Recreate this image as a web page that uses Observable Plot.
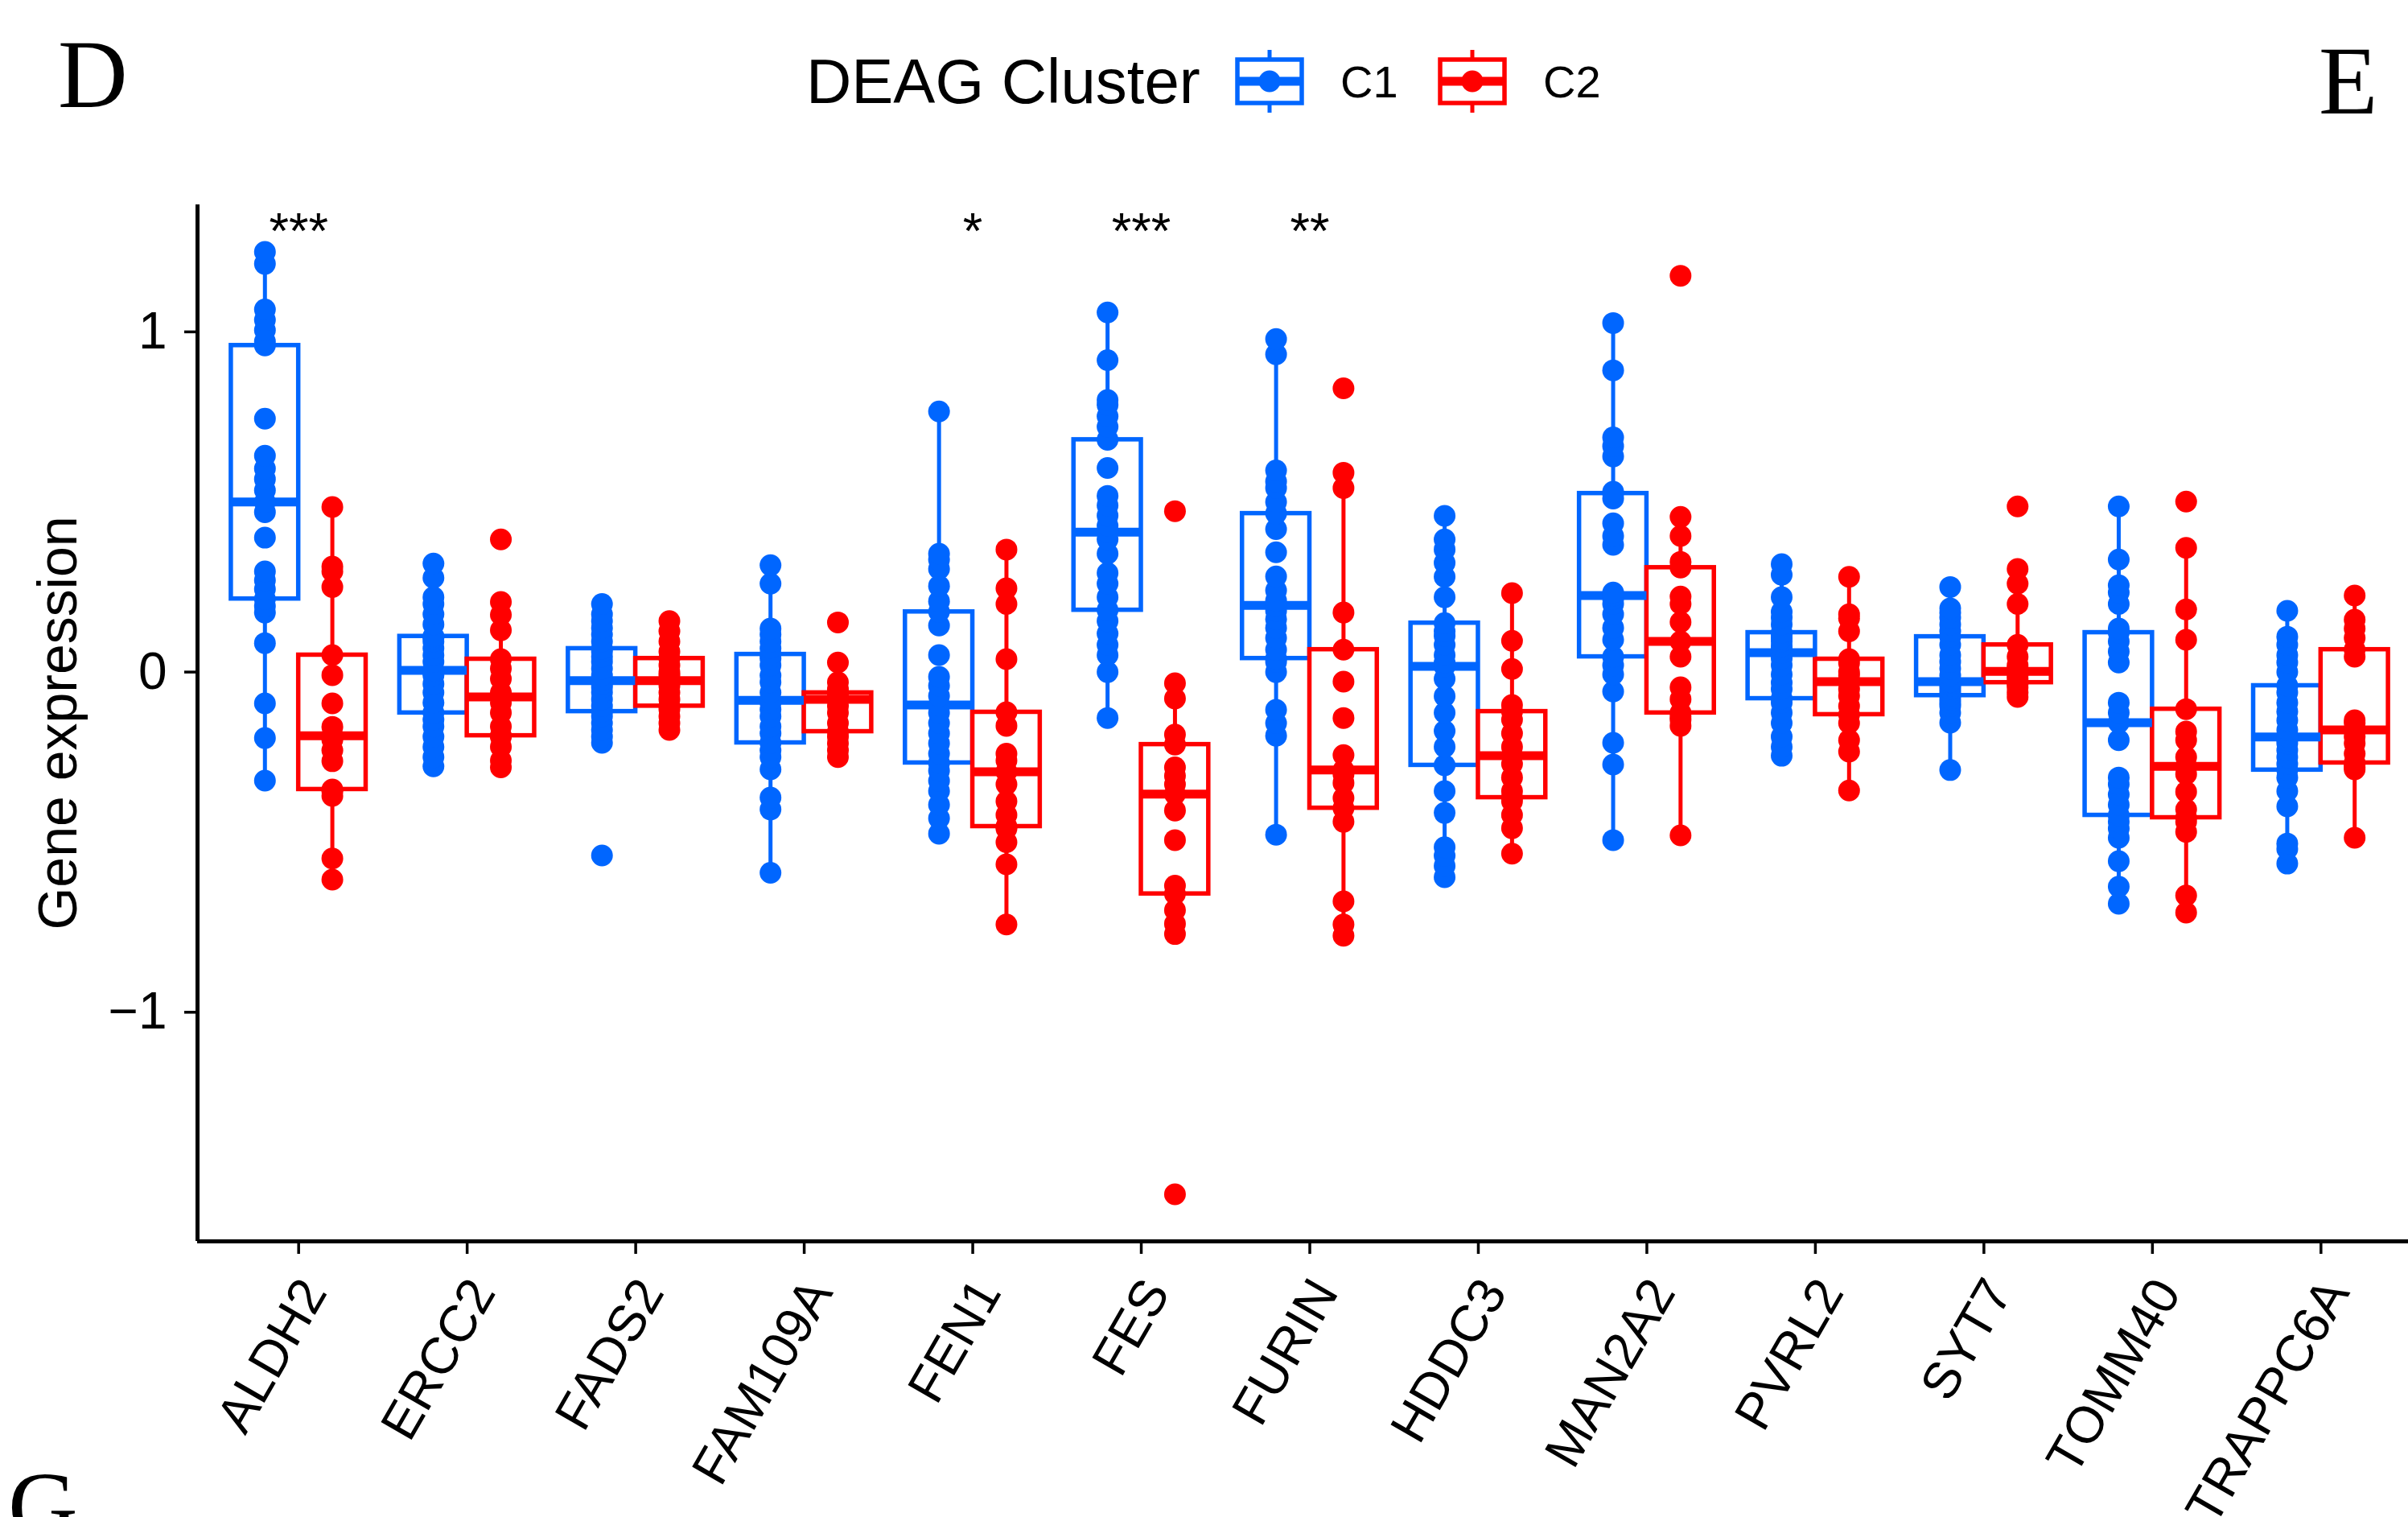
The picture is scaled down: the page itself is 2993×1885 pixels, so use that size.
<!DOCTYPE html>
<html>
<head>
<meta charset="utf-8">
<script src="https://cdn.jsdelivr.net/npm/d3@7"></script>
<script src="https://cdn.jsdelivr.net/npm/@observablehq/plot@0.6"></script>
<style>
  html, body { margin: 0; padding: 0; background: #fff; width: 2993px; height: 1885px; overflow: hidden; }
  body { position: relative; font-family: "Liberation Sans", Arial, sans-serif; }
  #header { position: relative; width: 2993px; height: 200px; }
  #chart svg { max-width: none !important; display: block; }
  #footer { position: absolute; left: 0; top: 1785px; }
</style>
</head>
<body>
<div id="header"></div>
<div id="chart"></div>
<div id="footer"></div>
<script>
// ---------------- data ----------------
const genes = ["ALDH2","ERCC2","FADS2","FAM109A","FEN1","FES","FURIN","HDDC3","MAN2A2","PVRL2","SYT7","TOMM40","TRAPPC6A"];
const clusters = ["C1","C2"];
const clusterColors = ["#0066FF","#FF0000"];
const legendTitle = "DEAG Cluster";
const yLabel = "Gene expression";
const yTicks = [-1, 0, 1];

const ALDH2_C1 = [-0.319,-0.194,-0.092,0.085,0.175,0.194,0.215,0.244,0.27,0.296,0.395,0.47,0.50,0.534,0.567,0.598,0.636,0.745,0.96,0.972,1.005,1.035,1.066,1.20,1.235];
const ALDH2_C2 = [-0.61,-0.548,-0.364,-0.35,-0.345,-0.262,-0.23,-0.199,-0.187,-0.161,-0.092,-0.009,0.05,0.25,0.296,0.31,0.485];
const ERCC2_C1 = [-0.277,-0.25,-0.22,-0.19,-0.16,-0.14,-0.12,-0.09,-0.06,-0.035,-0.01,0.0,0.005,0.03,0.05,0.07,0.09,0.10,0.105,0.14,0.17,0.20,0.22,0.277,0.319];
const ERCC2_C2 = [-0.28,-0.26,-0.22,-0.19,-0.187,-0.16,-0.12,-0.09,-0.073,-0.06,-0.02,0.01,0.038,0.123,0.168,0.206,0.39];
const FADS2_C1 = [-0.539,-0.208,-0.19,-0.17,-0.15,-0.13,-0.116,-0.1,-0.08,-0.06,-0.045,-0.035,-0.025,-0.01,0.01,0.03,0.045,0.06,0.069,0.09,0.11,0.13,0.15,0.17,0.2];
const FADS2_C2 = [-0.17,-0.15,-0.13,-0.11,-0.1,-0.08,-0.06,-0.04,-0.025,-0.01,0.0,0.02,0.04,0.06,0.09,0.12,0.15];
const FAM109A_C1 = [-0.59,-0.404,-0.369,-0.286,-0.25,-0.23,-0.208,-0.18,-0.16,-0.13,-0.11,-0.09,-0.083,-0.06,-0.03,-0.01,0.02,0.04,0.052,0.07,0.09,0.11,0.128,0.26,0.314];
const FAM109A_C2 = [-0.25,-0.23,-0.21,-0.19,-0.175,-0.15,-0.12,-0.1,-0.08,-0.075,-0.07,-0.065,-0.061,-0.05,-0.03,0.028,0.146];
const FEN1_C1 = [-0.475,-0.43,-0.39,-0.35,-0.32,-0.29,-0.267,-0.24,-0.21,-0.18,-0.15,-0.12,-0.097,-0.07,-0.04,-0.014,0.05,0.137,0.177,0.208,0.253,0.303,0.33,0.348,0.766];
const FEN1_C2 = [-0.742,-0.565,-0.5,-0.46,-0.454,-0.42,-0.38,-0.33,-0.293,-0.26,-0.24,-0.158,-0.118,0.038,0.2,0.246,0.36];
const FES_C1 = [-0.135,0.0,0.05,0.08,0.113,0.15,0.182,0.22,0.26,0.291,0.348,0.39,0.411,0.43,0.46,0.49,0.518,0.6,0.683,0.721,0.752,0.785,0.8,0.917,1.057];
const FES_C2 = [-1.535,-0.77,-0.74,-0.7,-0.652,-0.628,-0.494,-0.407,-0.359,-0.33,-0.305,-0.28,-0.213,-0.184,-0.078,-0.033,0.473];
const FURIN_C1 = [-0.478,-0.187,-0.15,-0.111,0.0,0.03,0.04,0.066,0.1,0.13,0.156,0.18,0.196,0.21,0.24,0.281,0.352,0.42,0.466,0.50,0.541,0.56,0.593,0.934,0.979];
const FURIN_C2 = [-0.775,-0.742,-0.674,-0.44,-0.4,-0.37,-0.326,-0.3,-0.288,-0.244,-0.135,-0.028,0.066,0.175,0.541,0.586,0.834];
const HDDC3_C1 = [-0.603,-0.57,-0.54,-0.515,-0.414,-0.35,-0.274,-0.22,-0.173,-0.12,-0.071,-0.02,0.017,0.028,0.05,0.08,0.106,0.12,0.144,0.22,0.28,0.321,0.36,0.39,0.459];
const HDDC3_C2 = [-0.534,-0.459,-0.42,-0.38,-0.369,-0.35,-0.31,-0.27,-0.246,-0.22,-0.18,-0.14,-0.116,-0.097,0.009,0.092,0.232];
const MAN2A2_C1 = [-0.494,-0.272,-0.208,-0.057,-0.007,0.02,0.045,0.095,0.13,0.17,0.2,0.215,0.225,0.234,0.374,0.4,0.437,0.51,0.525,0.53,0.634,0.664,0.69,0.887,1.026];
const MAN2A2_C2 = [-0.48,-0.158,-0.14,-0.13,-0.12,-0.08,-0.045,0.045,0.09,0.147,0.2,0.222,0.307,0.324,0.4,0.456,1.165];
const PVRL2_C1 = [-0.246,-0.22,-0.19,-0.15,-0.12,-0.09,-0.078,-0.05,-0.031,-0.007,0.02,0.04,0.057,0.065,0.075,0.09,0.1,0.11,0.116,0.14,0.16,0.177,0.22,0.286,0.317];
const PVRL2_C2 = [-0.348,-0.234,-0.2,-0.15,-0.125,-0.1,-0.07,-0.05,-0.028,-0.01,0.0,0.026,0.038,0.12,0.158,0.17,0.28];
const SYT7_C1 = [-0.288,-0.149,-0.12,-0.1,-0.09,-0.08,-0.069,-0.06,-0.05,-0.04,-0.035,-0.03,-0.028,-0.01,0.01,0.03,0.05,0.08,0.104,0.12,0.14,0.16,0.175,0.187,0.25];
const SYT7_C2 = [-0.073,-0.06,-0.045,-0.035,-0.031,-0.02,-0.01,0.0,0.002,0.01,0.02,0.045,0.08,0.2,0.26,0.303,0.487];
const TOMM40_C1 = [-0.681,-0.631,-0.556,-0.487,-0.46,-0.44,-0.421,-0.39,-0.36,-0.33,-0.31,-0.2,-0.149,-0.12,-0.09,0.028,0.06,0.09,0.116,0.128,0.2,0.234,0.255,0.331,0.487];
const TOMM40_C2 = [-0.707,-0.657,-0.47,-0.44,-0.428,-0.404,-0.352,-0.3,-0.277,-0.25,-0.2,-0.175,-0.109,0.095,0.184,0.365,0.501];
const TRAPPC6A_C1 = [-0.563,-0.52,-0.504,-0.395,-0.35,-0.31,-0.288,-0.27,-0.25,-0.23,-0.21,-0.2,-0.191,-0.17,-0.142,-0.116,-0.09,-0.06,-0.04,0.0,0.028,0.05,0.08,0.104,0.18];
const TRAPPC6A_C2 = [-0.487,-0.286,-0.28,-0.27,-0.267,-0.24,-0.21,-0.19,-0.17,-0.15,-0.142,0.045,0.066,0.1,0.128,0.154,0.225];

const sigGenes  = ["ALDH2","FEN1","FES","FURIN"];
const sigLabels = ["***","*","***","**"];
const sigY = 1.295;

// ---------------- build tables ----------------
const valuesByGene = {
  ALDH2: [ALDH2_C1, ALDH2_C2], ERCC2: [ERCC2_C1, ERCC2_C2], FADS2: [FADS2_C1, FADS2_C2],
  FAM109A: [FAM109A_C1, FAM109A_C2], FEN1: [FEN1_C1, FEN1_C2], FES: [FES_C1, FES_C2],
  FURIN: [FURIN_C1, FURIN_C2], HDDC3: [HDDC3_C1, HDDC3_C2], MAN2A2: [MAN2A2_C1, MAN2A2_C2],
  PVRL2: [PVRL2_C1, PVRL2_C2], SYT7: [SYT7_C1, SYT7_C2], TOMM40: [TOMM40_C1, TOMM40_C2],
  TRAPPC6A: [TRAPPC6A_C1, TRAPPC6A_C2]
};
const dodge = 0.2;      // offset of each cluster from the gene centre
const halfBox = 0.2;    // half box width
const points = [];
const stats = [];
genes.forEach((g, i) => {
  clusters.forEach((c, k) => {
    const pos = i + (k === 0 ? -dodge : dodge);
    const vals = valuesByGene[g][k];
    vals.forEach(v => points.push({gene: g, cluster: c, pos, value: v}));
    const s = d3.sort(vals);
    const q1 = d3.quantile(s, 0.25), med = d3.quantile(s, 0.5), q3 = d3.quantile(s, 0.75);
    const iqr = q3 - q1;
    const lo = d3.min(s.filter(v => v >= q1 - 1.5 * iqr));
    const hi = d3.max(s.filter(v => v <= q3 + 1.5 * iqr));
    stats.push({gene: g, cluster: c, pos, x1: pos - halfBox, x2: pos + halfBox, q1, med, q3, lo, hi});
  });
});
const sig = sigGenes.map((g, j) => ({pos: genes.indexOf(g), label: sigLabels[j], y: sigY}));
const geneLabels = genes.map((g, i) => ({pos: i, label: g}));

const [vmin, vmax] = d3.extent(points, d => d.value);
const span = vmax - vmin;
const yDomain = [vmin - 0.05 * span, vmax + 0.05 * span];
const xDomain = [-0.6, genes.length - 1 + 0.6];
const minusFormat = d => (d < 0 ? "\u2212" : "") + Math.abs(d);

// ---------------- chart ----------------
const font = "Liberation Sans, Arial, sans-serif";
const chart = Plot.plot({
  width: 3010,
  height: 1685,
  marginTop: 54,
  marginBottom: 343,
  marginLeft: 245,
  marginRight: 0,
  style: {fontFamily: font, fontSize: "64px", color: "black", background: "white", overflow: "visible"},
  x: {type: "linear", domain: xDomain, axis: null},
  y: {domain: yDomain, axis: null},
  color: {domain: clusters, range: clusterColors},
  marks: [
    Plot.axisY({ticks: yTicks, tickFormat: minusFormat, tickSize: 16, tickPadding: 22, strokeWidth: 3.5, fontSize: 64, label: null}),
    Plot.axisY({ticks: [], label: yLabel, labelAnchor: "center", labelArrow: "none", labelOffset: 199, fontSize: 68}),
    Plot.axisX({ticks: d3.range(genes.length), tickFormat: () => "", tickSize: 16, strokeWidth: 3.5, label: null}),
    Plot.text(geneLabels, {x: "pos", text: "label", frameAnchor: "bottom", rotate: -60,
      textAnchor: "end", lineAnchor: "middle", dx: 19, dy: 53, fontSize: 64, fill: "black"}),
    Plot.ruleX([xDomain[0]], {strokeWidth: 5}),
    Plot.ruleY([yDomain[0]], {strokeWidth: 5}),
    Plot.ruleX(stats, {x: "pos", y1: "q3", y2: "hi", stroke: "cluster", strokeWidth: 5}),
    Plot.ruleX(stats, {x: "pos", y1: "lo", y2: "q1", stroke: "cluster", strokeWidth: 5}),
    Plot.rect(stats, {x1: "x1", x2: "x2", y1: "q1", y2: "q3", fill: "white", stroke: "cluster", strokeWidth: 5.5}),
    Plot.ruleY(stats, {y: "med", x1: "x1", x2: "x2", stroke: "cluster", strokeWidth: 11}),
    Plot.dot(points, {x: "pos", y: "value", fill: "cluster", r: 13.5}),
    Plot.text(sig, {x: "pos", y: "y", text: "label", fontSize: 63, fill: "black"})
  ]
});
document.getElementById("chart").appendChild(chart);

// ---------------- header: panel letters and legend ----------------
const header = d3.select("#header").append("svg").attr("width", 2993).attr("height", 200);
header.append("text").attr("x", 72).attr("y", 133)
  .attr("font-family", "Liberation Serif, Times New Roman, serif").attr("font-size", 120).text("D");
header.append("text").attr("x", 2882).attr("y", 141)
  .attr("font-family", "Liberation Serif, Times New Roman, serif").attr("font-size", 120).text("E");
header.append("text").attr("x", 1002).attr("y", 128)
  .attr("font-family", font).attr("font-size", 78).text(legendTitle);
const keyX = [1538, 1790];
const textX = [1666, 1918];
clusters.forEach((c, k) => {
  const g = header.append("g");
  const cx = keyX[k] + 40, cy = 101;
  g.append("line").attr("x1", cx).attr("x2", cx).attr("y1", 62).attr("y2", 140)
    .attr("stroke", clusterColors[k]).attr("stroke-width", 5);
  g.append("rect").attr("x", keyX[k]).attr("y", 74).attr("width", 80).attr("height", 54)
    .attr("fill", "white").attr("stroke", clusterColors[k]).attr("stroke-width", 5.5);
  g.append("line").attr("x1", keyX[k]).attr("x2", keyX[k] + 80).attr("y1", cy).attr("y2", cy)
    .attr("stroke", clusterColors[k]).attr("stroke-width", 11);
  g.append("circle").attr("cx", cx).attr("cy", cy).attr("r", 13.5).attr("fill", clusterColors[k]);
  header.append("text").attr("x", textX[k]).attr("y", cy).attr("dominant-baseline", "central")
    .attr("font-family", font).attr("font-size", 56).text(c);
});

// bottom-left panel letter of the next panel
d3.select("#footer").append("svg").attr("width", 200).attr("height", 100)
  .append("text").attr("x", 10).attr("y", 127)
  .attr("font-family", "Liberation Serif, Times New Roman, serif").attr("font-size", 120).text("G");
</script>
</body>
</html>
